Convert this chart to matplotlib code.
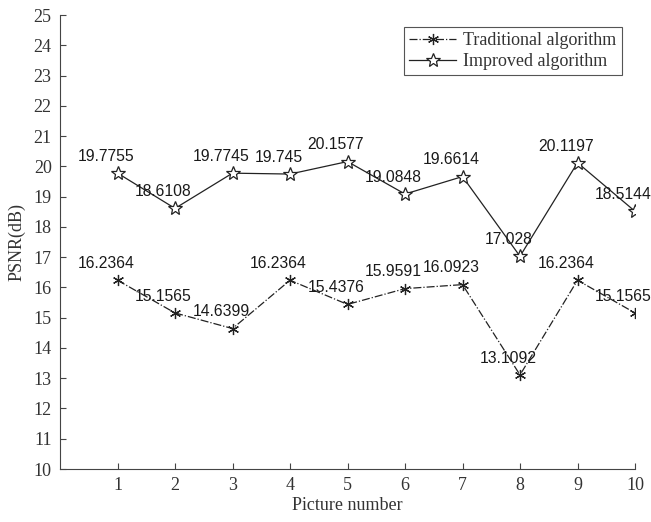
import matplotlib
matplotlib.use("Agg")
import matplotlib.pyplot as plt

pictures = [1, 2, 3, 4, 5, 6, 7, 8, 9, 10]
traditional = [16.2364, 15.1565, 14.6399, 16.2364, 15.4376, 15.9591, 16.0923, 13.1092, 16.2364, 15.1565]
improved = [19.7755, 18.6108, 19.7745, 19.745, 20.1577, 19.0848, 19.6614, 17.028, 20.1197, 18.5144]
series_names = ["Traditional algorithm", "Improved algorithm"]
x_label = "Picture number"
y_label = "PSNR(dB)"

plt.rcParams['font.family'] = ['Liberation Serif', 'DejaVu Serif']
text_color = '#333333'

fig = plt.figure(figsize=(6.51, 5.22), dpi=100)
ax = fig.add_axes([60/651, 1-469/522, (635-60)/651, (469-15)/522])

ax.plot(pictures, traditional, linestyle='-.', color='#222222', linewidth=0.9,
        marker=(6, 2, 0), markersize=8, markeredgewidth=0.9, label=series_names[0])
ax.plot(pictures, improved, linestyle='-', color='#222222', linewidth=0.9,
        marker='*', markersize=10, markerfacecolor='white', markeredgewidth=0.9,
        label=series_names[1])

for xs, ys in [(pictures, traditional), (pictures, improved)]:
    for xv, yv in zip(xs, ys):
        ax.text(xv - 0.2, yv + 0.55, f"{yv:g}", ha='center', va='center',
                fontsize=11.3, family=['Liberation Sans', 'DejaVu Sans'], color='#1a1a1a')

ax.set_xlim(0, 10)
ax.set_ylim(10, 25)
ax.set_xticks(pictures)
ax.set_yticks(range(10, 26))
ax.spines['top'].set_visible(False)
ax.spines['right'].set_visible(False)
for s in ['left', 'bottom']:
    ax.spines[s].set_color('#444444')
    ax.spines[s].set_linewidth(0.8)
ax.tick_params(direction='in', length=4, width=0.8, colors='#444444',
               labelsize=13, labelcolor=text_color, pad=6)
ax.set_xlabel(x_label, fontsize=13, color=text_color, labelpad=2)
ax.set_ylabel(y_label, fontsize=13, color=text_color, labelpad=6)

leg = ax.legend(loc='upper right', bbox_to_anchor=(622/651, 1-27/522),
                bbox_transform=fig.transFigure, borderaxespad=0, fontsize=13,
                fancybox=False, framealpha=1, edgecolor='#555555',
                handlelength=2.6, handletextpad=0.4, borderpad=0.3, labelspacing=0.2)
leg.get_frame().set_linewidth(0.8)
for t in leg.get_texts():
    t.set_color(text_color)

fig.savefig('out.png', dpi=100)
